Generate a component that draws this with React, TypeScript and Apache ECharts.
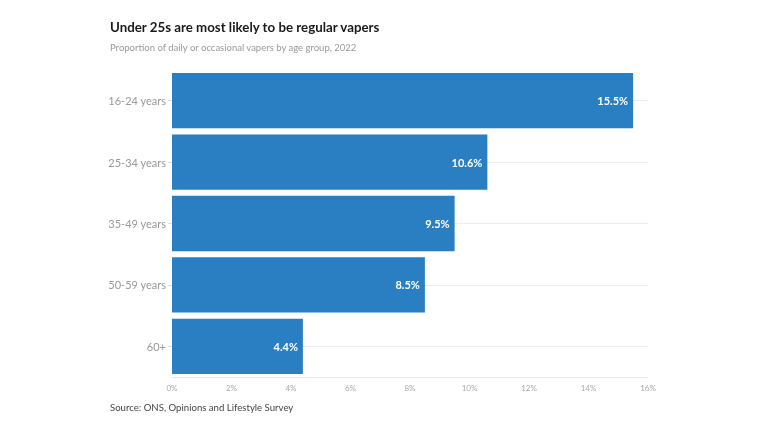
import React, { useEffect, useRef } from "react";
import * as echarts from "echarts";

const categories = ["16-24 years", "25-34 years", "35-49 years", "50-59 years", "60+"];
const values = [15.5, 10.6, 9.5, 8.5, 4.4];

export default function App() {
  const ref = useRef<HTMLDivElement>(null);
  useEffect(() => {
    const chart = echarts.init(ref.current!, null, { renderer: "svg" });
    const font = "Lato, 'Open Sans', sans-serif";
    chart.setOption({
      animation: false,
      textStyle: { fontFamily: font },
      title: [
        {
          text: "Under 25s are most likely to be regular vapers",
          left: 110,
          top: 20,
          padding: 0,
          textStyle: { fontSize: 13.3, fontWeight: "bold", color: "#1a1a1a", fontFamily: font },
        },
        {
          text: "Proportion of daily or occasional vapers by age group, 2022",
          left: 110,
          top: 42,
          padding: 0,
          textStyle: { fontSize: 9.5, fontWeight: "normal", color: "#999", fontFamily: font },
        },
        {
          text: "Source: ONS, Opinions and Lifestyle Survey",
          left: 110,
          top: 402,
          padding: 0,
          textStyle: { fontSize: 9.6, fontWeight: "normal", color: "#444", fontFamily: font },
        },
      ],
      grid: { left: 172, right: 120, top: 70, bottom: 55, containLabel: false },
      xAxis: {
        type: "value",
        min: 0,
        max: 16,
        interval: 2,
        axisLine: { show: true, lineStyle: { color: "#e6e6e6" } },
        axisTick: { show: false },
        splitLine: { show: false },
        axisLabel: { color: "#aaa", fontSize: 8, formatter: "{value}%", margin: 7 },
      },
      yAxis: {
        type: "category",
        data: categories,
        inverse: true,
        axisLine: { show: false },
        axisTick: { show: true, alignWithLabel: true, length: 4, lineStyle: { color: "#ddd" } },
        splitLine: { show: true, alignWithLabel: true, lineStyle: { color: "#ececec" } },
        axisLabel: { color: "#999", fontSize: 11, margin: 6 },
      },
      series: [
        {
          type: "bar",
          data: values,
          barCategoryGap: "10%",
          itemStyle: { color: "#2a7fc3" },
          label: {
            show: true,
            position: "insideRight",
            color: "#fff",
            fontWeight: "bold",
            fontSize: 11,
            formatter: (p: any) => p.value + "%",
          },
          z: 3,
        },
      ],
    });
    return () => chart.dispose();
  }, []);
  return <div ref={ref} style={{ width: 768, height: 432, position: "fixed", left: 0, top: 0 }} />;
}
